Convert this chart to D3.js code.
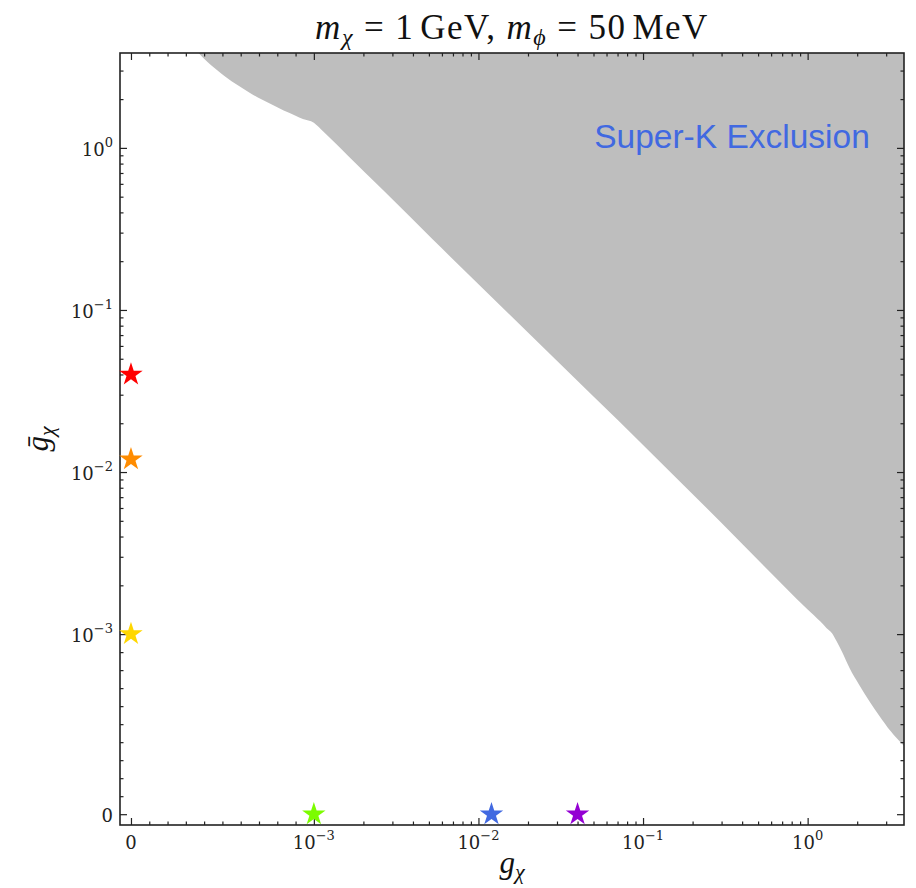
<!DOCTYPE html>
<html>
<head>
<meta charset="utf-8">
<title>Super-K exclusion</title>
<script src="https://d3js.org/d3.v7.min.js"></script>
<style>
  body { margin: 0; background: #fff; }
  svg { display: block; }
</style>
</head>
<body>
<svg width="916" height="888"></svg>
<script>
// exclusion boundary (g_chi, gbar_chi)
var boundaryG = [3.5e-4, 3.7e-4, 4.0e-4, 4.4e-4, 4.7e-4, 5.2e-4, 5.8e-4, 6.4e-4, 7.1e-4, 7.7e-4,
  8.35e-4, 9.0e-4, 9.4e-4, 1.0e-3, 1.05e-3, 1.1e-3, 1.3e-3,
  1.6e-3, 2.65e-3, 5.3e-3, 0.015, 0.05, 0.1, 0.3, 1.0, 1.2, 1.3, 1.41, 1.5, 1.62, 1.8, 2.05, 2.4,
  2.71, 3.2, 3.79, 4.2];
var boundaryGbar = [4.1, 3.85, 3.55, 3.22, 3.02, 2.73, 2.45, 2.22, 2.0, 1.85,
  1.70, 1.58, 1.51, 1.43, 1.37, 1.31, 1.11,
  0.90, 0.545, 0.271, 0.0965, 0.0292, 0.0147, 4.85e-3, 1.42e-3, 1.19e-3, 1.09e-3, 1.01e-3, 9.6e-4, 9.0e-4, 8.1e-4, 7.2e-4, 6.2e-4,
  5.5e-4, 4.6e-4, 3.85e-4, 3.45e-4];

// benchmark points
var starG = [0, 0, 0, 0.001, 0.012, 0.04];
var starGbar = [0.04, 0.012, 0.001, 0, 0, 0];
var starColors = ["#ff0000", "#ff8c00", "#ffd700", "#7cfc00", "#4169e1", "#9400d3"];

// ticks
var majorTicks = [0, 1e-3, 1e-2, 1e-1, 1];
var majorBase = ["0", "10", "10", "10", "10"];
var majorExp = ["", "\u22123", "\u22122", "\u22121", "0"];
var xLimits = [-6e-5, 3.85];
var yLimits = [-6e-5, 3.85];

// matplotlib style symlog: linthresh 1e-3, linscale 1
var linthresh = 1e-3;
var linscale = 1 / (1 - 0.1);
function symlog(v) {
  var a = Math.abs(v);
  var t = a <= linthresh ? a / linthresh * linscale : linscale + Math.log10(a / linthresh);
  return v < 0 ? -t : t;
}

var minorTicks = [];
for (var i = 1; i < 10; i++) minorTicks.push(i * 1e-4);
[1e-3, 1e-2, 1e-1, 1].forEach(function(p) {
  for (var k = 2; k < 10; k++) if (k * p < xLimits[1]) minorTicks.push(k * p);
});

var margin = {left: 120, top: 53, right: 12, bottom: 63};
var W = 916 - margin.left - margin.right;
var H = 888 - margin.top - margin.bottom;

var svg = d3.select("svg");
var plot = svg.append("g").attr("transform", "translate(" + margin.left + "," + margin.top + ")");

var xT = d3.scaleLinear().domain(xLimits.map(symlog)).range([0, W]);
var yT = d3.scaleLinear().domain(yLimits.map(symlog)).range([H, 0]);
function x(v) { return xT(symlog(v)); }
function y(v) { return yT(symlog(v)); }

plot.append("clipPath").attr("id", "clip")
  .append("rect").attr("width", W).attr("height", H);

// shaded exclusion region
var area = d3.area()
  .x(function(d, i) { return x(boundaryG[i]); })
  .y0(0)
  .y1(function(d, i) { return y(boundaryGbar[i]); })
  .curve(d3.curveMonotoneX);

plot.append("path")
  .datum(boundaryG)
  .attr("clip-path", "url(#clip)")
  .attr("d", area)
  .style("fill", "#bebebe");

plot.append("text")
  .attr("x", 612)
  .attr("y", 95)
  .attr("text-anchor", "middle")
  .attr("font-family", "Liberation Sans, Arial, sans-serif")
  .attr("font-size", 33.5)
  .style("fill", "#4169e1")
  .text("Super-K Exclusion");

// ticks on all four sides, pointing in
function drawTicks(axisFn, scale, tx, ty) {
  var g = plot.append("g").attr("transform", "translate(" + tx + "," + ty + ")");
  g.append("g").call(axisFn(scale).tickValues(minorTicks.map(symlog)).tickSize(-3.5).tickFormat(""));
  g.append("g").call(axisFn(scale).tickValues(majorTicks.map(symlog)).tickSize(-7).tickFormat(""));
  g.selectAll(".domain").remove();
  g.selectAll(".tick line").attr("stroke", "#222").attr("stroke-width", 1.2);
}
drawTicks(d3.axisBottom, xT, 0, H);
drawTicks(d3.axisTop, xT, 0, 0);
drawTicks(d3.axisLeft, yT, 0, 0);
drawTicks(d3.axisRight, yT, W, 0);

plot.append("rect")
  .attr("width", W).attr("height", H)
  .style("fill", "none").style("stroke", "#222").style("stroke-width", 1.6);

// tick labels
function label(sel, i) {
  sel.append("tspan").text(majorBase[i]);
  if (majorExp[i]) sel.append("tspan").attr("dy", -9).attr("font-size", 13).text(majorExp[i]);
}
plot.selectAll(".xlab").data(majorTicks).enter().append("text")
  .attr("class", "xlab")
  .attr("x", function(d) { return x(d); })
  .attr("y", H + 24)
  .attr("text-anchor", "middle")
  .attr("font-family", "DejaVu Serif, serif")
  .attr("font-size", 18)
  .style("fill", "#222")
  .each(function(d, i) { label(d3.select(this), i); });

plot.selectAll(".ylab").data(majorTicks).enter().append("text")
  .attr("class", "ylab")
  .attr("x", -7)
  .attr("y", function(d) { return y(d) + 8; })
  .attr("text-anchor", "end")
  .attr("font-family", "DejaVu Serif, serif")
  .attr("font-size", 18)
  .style("fill", "#222")
  .each(function(d, i) { label(d3.select(this), i); });

// stars
var star = d3.symbol().type(d3.symbolStar).size(170);
plot.selectAll(".star").data(starG).enter().append("path")
  .attr("class", "star")
  .attr("transform", function(d, i) { return "translate(" + x(d) + "," + y(starGbar[i]) + ")"; })
  .attr("d", star)
  .style("fill", function(d, i) { return starColors[i]; });

// title and axis labels
var title = svg.append("text")
  .attr("x", margin.left + W / 2)
  .attr("y", 39)
  .attr("text-anchor", "middle")
  .attr("font-family", "Liberation Serif, serif")
  .attr("font-size", 35)
  .attr("letter-spacing", 1.5)
  .style("fill", "#111");
title.append("tspan").attr("font-style", "italic").text("m");
title.append("tspan").attr("font-style", "italic").attr("font-size", 24).attr("dy", 6).text("\u03c7");
title.append("tspan").attr("dy", -6).attr("dx", 10).text("=");
title.append("tspan").attr("dx", 10).text("1");
title.append("tspan").attr("dx", 6).text("GeV,");
title.append("tspan").attr("font-style", "italic").attr("dx", 10).text("m");
title.append("tspan").attr("font-style", "italic").attr("font-size", 24).attr("dy", 6).text("\u03d5");
title.append("tspan").attr("dy", -6).attr("dx", 10).text("=");
title.append("tspan").attr("dx", 10).text("50");
title.append("tspan").attr("dx", 6).text("MeV");

var xl = svg.append("text")
  .attr("x", margin.left + W / 2)
  .attr("y", 873)
  .attr("text-anchor", "middle")
  .attr("font-family", "Liberation Serif, serif")
  .attr("font-size", 31)
  .style("fill", "#111");
xl.append("tspan").attr("font-style", "italic").text("g");
xl.append("tspan").attr("font-style", "italic").attr("font-size", 22).attr("dy", 6).text("\u03c7");

var yl = svg.append("text")
  .attr("transform", "translate(48," + (margin.top + H / 2) + ") rotate(-90)")
  .attr("text-anchor", "middle")
  .attr("font-family", "Liberation Serif, serif")
  .attr("font-size", 31)
  .style("fill", "#111");
yl.append("tspan").attr("font-style", "italic").text("g\u0304");
yl.append("tspan").attr("font-style", "italic").attr("font-size", 22).attr("dy", 6).text("\u03c7");
</script>
</body>
</html>
